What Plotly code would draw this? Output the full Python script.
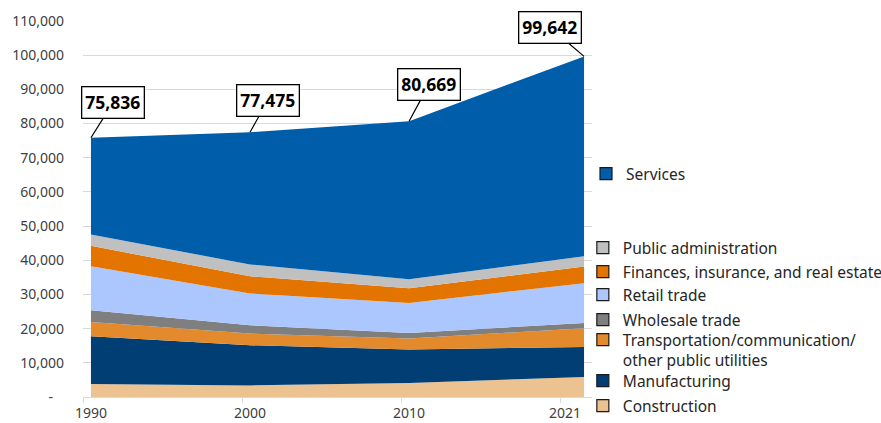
import plotly.graph_objects as go

years = [1990, 2000, 2010, 2021]
construction = [3800, 3400, 4100, 5850]
manufacturing = [13970, 11740, 9780, 8790]
transportation = [4190, 3420, 3220, 5480]
wholesale = [3430, 2440, 1640, 1550]
retail = [12880, 9280, 8790, 11620]
finance = [5950, 5060, 4300, 4890]
public_admin = [3330, 3430, 2640, 3020]
services = [28286, 38705, 46199, 58442]
totals = [75836, 77475, 80669, 99642]

series = [
    ("Construction", construction, "#EDC291"),
    ("Manufacturing", manufacturing, "#003E74"),
    ("Transportation/communication/<br>other public utilities", transportation, "#E38A2D"),
    ("Wholesale trade", wholesale, "#7F7F7F"),
    ("Retail trade", retail, "#ABC7FD"),
    ("Finances, insurance, and real estate", finance, "#E37400"),
    ("Public administration", public_admin, "#C0C0C0"),
    ("Services", services, "#005DAA"),
]
# legend entry vertical centres (pixels from top) for each series
legend_ypix = [406, 381, 350, 320, 295, 272, 248, 174]

fig = go.Figure()
for name, vals, color in series:
    fig.add_trace(go.Scatter(
        x=years, y=vals, name=name, stackgroup="one", mode="lines",
        line=dict(width=0, color=color), fillcolor=color, showlegend=False,
        hoverinfo="skip"))

font_family = "Noto Sans, Open Sans, sans-serif"
legend_layouts = {}
for i, ((name, vals, color), yp) in enumerate(zip(series, legend_ypix)):
    key = "legend" if i == 0 else f"legend{i + 1}"
    fig.add_trace(go.Bar(
        x=[None], y=[None], name=name,
        marker=dict(color=color, line=dict(color="#1a1a1a", width=1.2)),
        showlegend=True, legend=key))
    xl = (586 - 83) / 509 if name == "Services" else 0.982
    legend_layouts[key] = dict(
        x=xl, xanchor="left", y=(397 - yp) / 376, yanchor="middle",
        valign="top", font=dict(size=15.5, color="#262626"),
        bgcolor="rgba(0,0,0,0)")

offsets = [(22, -35), (18, -32), (20, -37), (-34, -29)]
for yr, tot, (ax, ay) in zip(years, totals, offsets):
    fig.add_annotation(
        x=yr, y=tot, xref="x", yref="y", text=f"<b>{tot:,}</b>",
        showarrow=True, arrowhead=0, arrowwidth=1.2, arrowcolor="black",
        ax=ax, ay=ay, bordercolor="black", borderwidth=1.3, borderpad=3,
        bgcolor="white", font=dict(family=font_family, size=17.5, color="black"))

yvals = list(range(0, 110001, 10000))
ytext = ["-\u00a0\u00a0\u00a0" if v == 0 else f"{v:,}" for v in yvals]

fig.update_layout(
    width=881, height=423,
    margin=dict(l=83, r=289, t=21, b=26, autoexpand=False),
    paper_bgcolor="white", plot_bgcolor="white",
    font=dict(family=font_family, size=14, color="#404040"),
    barmode="overlay",
    xaxis=dict(
        range=[1989.5, 2021.5], tickvals=[1990, 2000, 2010, 2019.8],
        ticktext=["1990", "2000", "2010", "2021"], ticks="", automargin=False,
        showgrid=False, zeroline=False, showline=True, linecolor="#D9D9D9", linewidth=1,
        minor=dict(tick0=1989.5, dtick=10, ticks="outside", ticklen=5, tickcolor="#D9D9D9", showgrid=False),
        ticklabelstandoff=3, tickfont=dict(size=14, color="#404040")),
    yaxis=dict(
        range=[0, 110000], tickvals=yvals, ticktext=ytext, automargin=False,
        showgrid=True, gridcolor="#D9D9D9", gridwidth=1, zeroline=False, showline=False,
        ticks="", ticklabelstandoff=18, tickfont=dict(size=14, color="#404040")),
    **legend_layouts,
)

fig.write_html("out.html", config={"displayModeBar": False},
               post_script="document.body.style.margin='0';document.body.style.overflow='hidden';")
